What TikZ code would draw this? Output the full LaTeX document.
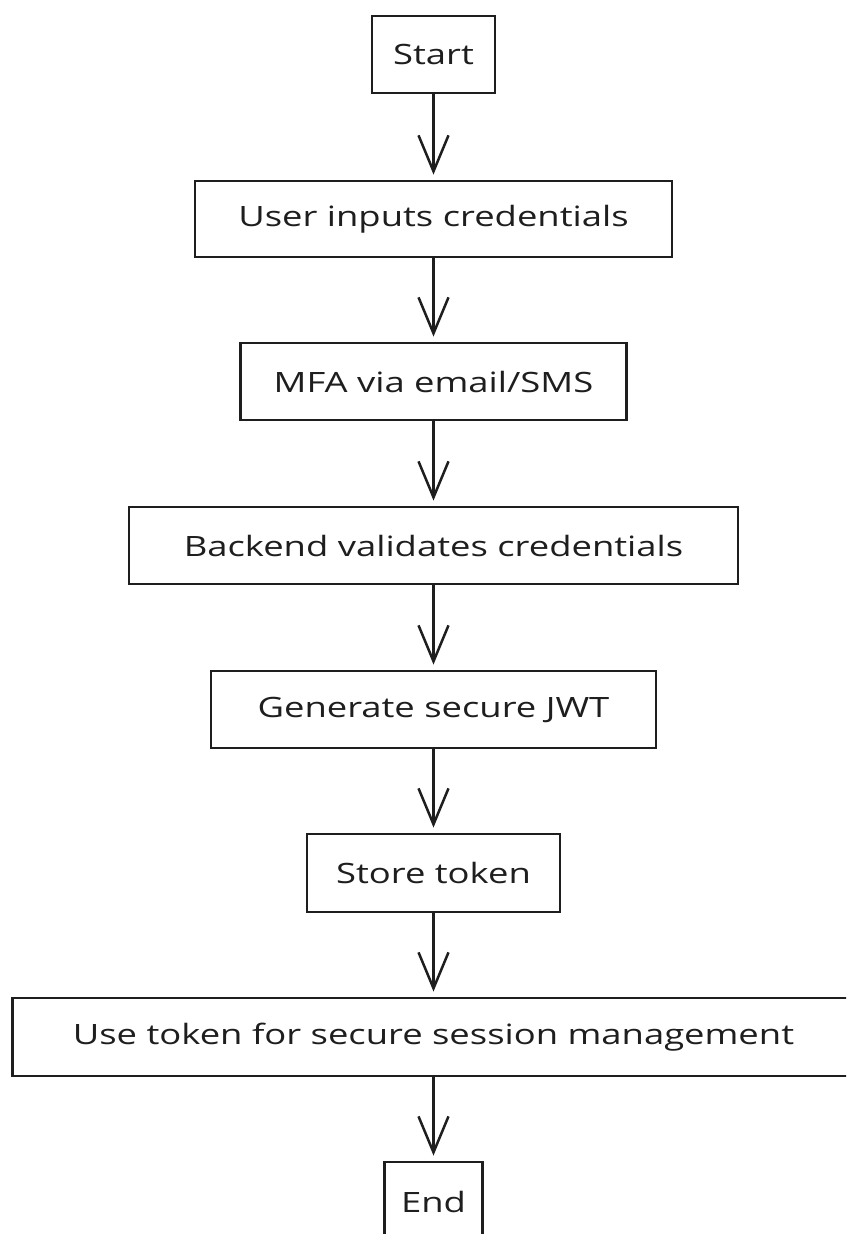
\documentclass[tikz,border=0pt]{standalone}
\usepackage{fontspec}
\setmainfont[FakeStretch=1.30]{Open Sans}
\usetikzlibrary{arrows.meta}
\definecolor{ink}{HTML}{1E1E1E}
\begin{document}
\begin{tikzpicture}[x=1pt,y=-1pt,
  box/.style={draw=ink, line width=2.8pt, inner sep=0pt, font=\fontsize{28}{32}\selectfont, text=ink},
  flow/.style={draw=ink, line width=2.5pt, -{Straight Barb[length=36pt,width=30pt]}, shorten >=5pt}]
\fill[white] (0,0) rectangle (846,1234);
\clip (0,0) rectangle (846,1234);
\node[box, minimum width=123pt, minimum height=77pt] (start) at (433.5,54.5) {Start};
\node[box, minimum width=477pt, minimum height=76pt] (user) at (433.5,219) {User inputs credentials};
\node[box, minimum width=386pt, minimum height=77pt] (mfa) at (433.5,381.5) {MFA via email/SMS};
\node[box, minimum width=609pt, minimum height=77pt] (backend) at (433.5,545.5) {Backend validates credentials};
\node[box, minimum width=445pt, minimum height=77pt] (gen) at (433.5,709.5) {Generate secure JWT};
\node[box, minimum width=253pt, minimum height=78pt] (store) at (433.5,873) {Store token};
\node[box, minimum width=842pt, minimum height=78pt] (use) at (433.5,1037) {Use token for secure session management};
\node[box, minimum width=98pt, minimum height=80pt] (end) at (433.5,1202) {End};
\draw[flow] (start) -- (user);
\draw[flow] (user) -- (mfa);
\draw[flow] (mfa) -- (backend);
\draw[flow] (backend) -- (gen);
\draw[flow] (gen) -- (store);
\draw[flow] (store) -- (use);
\draw[flow] (use) -- (end);
\end{tikzpicture}
\end{document}
